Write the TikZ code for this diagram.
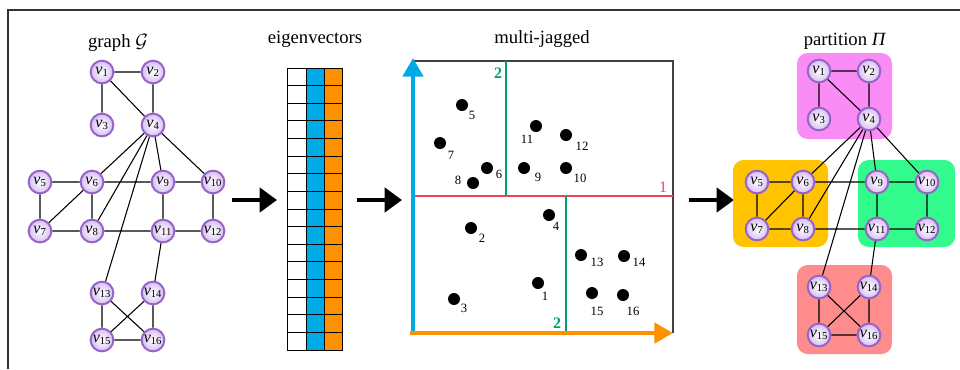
\documentclass[tikz,border=0pt]{standalone}
\usepackage{fontspec}
\setmainfont{Liberation Serif}
\usetikzlibrary{arrows.meta}

\definecolor{vborder}{RGB}{150,100,200}
\definecolor{vfill}{RGB}{215,190,242}
\definecolor{eblue}{RGB}{0,170,230}
\definecolor{eorange}{RGB}{255,145,0}
\definecolor{cutred}{RGB}{240,70,90}
\definecolor{cutgreen}{RGB}{0,160,110}
\definecolor{ppink}{RGB}{250,140,245}
\definecolor{pyellow}{RGB}{255,195,0}
\definecolor{pgreen}{RGB}{50,250,140}
\definecolor{pred}{RGB}{255,140,140}

\newcommand{\vlab}[1]{\textit{v}\textsubscript{#1}}

\begin{document}
\begin{tikzpicture}[x=0.75pt,y=-0.75pt,
  vtx/.style={circle, draw=vborder, line width=1.5pt, inner color=white, outer color=vfill,
    minimum size=17pt, inner sep=0pt, font=\fontsize{12}{12}\selectfont},
  pt/.style={circle, fill=black, minimum size=9pt, inner sep=0pt},
  num/.style={font=\fontsize{9.5}{10}\selectfont, inner sep=0pt},
  ttl/.style={font=\fontsize{14}{16}\selectfont, anchor=base},
  flow/.style={line width=3.5pt, -{Triangle[length=13pt,width=18pt]}},
  axis/.style={line width=3.5pt, -{Triangle[length=14pt,width=15pt]}},
  cut/.style={line width=1.2pt},
  cell/.style={draw, line width=0.6pt},
  part/.style={rounded corners=8pt}
]
\useasboundingbox (0,0) rectangle (960,369);
\draw[line width=1.2pt, black!80] (8,369) -- (8,10) -- (960,10);

% titles
\node[ttl] (tg) at (118,47) {graph $\mathcal{G}$};
\node[ttl] (te) at (315,43) {eigenvectors};
\node[ttl] (tm) at (542,43) {multi-jagged};
\node[ttl] (tp) at (845,45) {partition \textit{Π}};

% graph G
\node[vtx] (g1) at (102,72) {\vlab{1}};
\node[vtx] (g2) at (153,72) {\vlab{2}};
\node[vtx] (g3) at (102,125) {\vlab{3}};
\node[vtx] (g4) at (153,125) {\vlab{4}};
\node[vtx] (g5) at (40,182) {\vlab{5}};
\node[vtx] (g6) at (92,182) {\vlab{6}};
\node[vtx] (g7) at (40,231) {\vlab{7}};
\node[vtx] (g8) at (92,231) {\vlab{8}};
\node[vtx] (g9) at (163,182) {\vlab{9}};
\node[vtx] (g10) at (213,182) {\vlab{10}};
\node[vtx] (g11) at (163,231) {\vlab{11}};
\node[vtx] (g12) at (213,231) {\vlab{12}};
\node[vtx] (g13) at (102,293) {\vlab{13}};
\node[vtx] (g14) at (153,293) {\vlab{14}};
\node[vtx] (g15) at (102,340) {\vlab{15}};
\node[vtx] (g16) at (153,340) {\vlab{16}};

\path[draw,thick] (g1) -- (g2) (g1) -- (g3) (g1) -- (g4) (g2) -- (g4)
  (g4) -- (g6) (g4) -- (g8) (g4) -- (g9) (g4) -- (g10) (g4) -- (g13)
  (g5) -- (g6) (g5) -- (g7) (g6) -- (g7) (g6) -- (g8) (g6) -- (g9) (g7) -- (g8)
  (g8) -- (g11) (g9) -- (g10) (g9) -- (g11) (g10) -- (g12) (g11) -- (g12)
  (g11) -- (g14) (g13) -- (g15) (g13) -- (g16) (g14) -- (g15) (g14) -- (g16)
  (g15) -- (g16);

% eigenvectors
\fill[eblue] (306,68) rectangle (324,350);
\fill[eorange] (324,68) rectangle (342,350);
\foreach \r in {0,...,15} {
  \draw[cell] (287,{68+17.625*\r}) rectangle (306,{68+17.625*(\r+1)});
  \draw[cell] (306,{68+17.625*\r}) rectangle (324,{68+17.625*(\r+1)});
  \draw[cell] (324,{68+17.625*\r}) rectangle (342,{68+17.625*(\r+1)});
}

% flow arrows
\coordinate (a1) at (232,200);
\coordinate (b1) at (277,200);
\coordinate (a2) at (357,200);
\coordinate (b2) at (402,200);
\coordinate (a3) at (689,200);
\coordinate (b3) at (734,200);
\draw[flow] (a1) -- (b1);
\draw[flow] (a2) -- (b2);
\draw[flow] (a3) -- (b3);

% multi-jagged
\coordinate (o) at (413,333);
\coordinate (ytip) at (413,58);
\coordinate (xtip) at (673,333);
\draw[line width=1.2pt, black!75] (413,61) -- (673,61) -- (673,333);
\draw[cut, cutred] (413,196) -- (673,196);
\draw[cut, cutgreen] (506,61) -- (506,196);
\draw[cut, cutgreen] (566,196) -- (566,333);
\draw[axis, eblue] (o) -- (ytip);
\draw[axis, eorange] ([xshift=-2pt]o) -- (xtip);
\node[font=\fontsize{12}{12}\selectfont, text=cutred] (c1) at (663,187) {1};
\node[font=\fontsize{12}{12}\selectfont\bfseries, text=cutgreen] (c2) at (498,73) {2};
\node[font=\fontsize{12}{12}\selectfont\bfseries, text=cutgreen] (c3) at (557,323) {2};

\node[pt] (d1) at (538,283) {};  \node[num] (n1) at (545,296) {1};
\node[pt] (d2) at (471,228) {};  \node[num] (n2) at (482,238) {2};
\node[pt] (d3) at (454,299) {};  \node[num] (n3) at (464,308) {3};
\node[pt] (d4) at (549,215) {};  \node[num] (n4) at (556,226) {4};
\node[pt] (d5) at (462,105) {};  \node[num] (n5) at (472,115) {5};
\node[pt] (d6) at (487,168) {};  \node[num] (n6) at (499,174) {6};
\node[pt] (d7) at (440,143) {};  \node[num] (n7) at (451,155) {7};
\node[pt] (d8) at (473,183) {};  \node[num] (n8) at (458,180) {8};
\node[pt] (d9) at (524,168) {};  \node[num] (n9) at (538,177) {9};
\node[pt] (d10) at (566,168) {}; \node[num] (n10) at (580,178) {10};
\node[pt] (d11) at (536,126) {}; \node[num] (n11) at (527,139) {11};
\node[pt] (d12) at (566,135) {}; \node[num] (n12) at (582,146) {12};
\node[pt] (d13) at (581,255) {}; \node[num] (n13) at (597,262) {13};
\node[pt] (d14) at (624,256) {}; \node[num] (n14) at (639,262) {14};
\node[pt] (d15) at (592,293) {}; \node[num] (n15) at (597,311) {15};
\node[pt] (d16) at (623,295) {}; \node[num] (n16) at (633,311) {16};

% partition
\fill[part, ppink] (797,53) rectangle (892,139);
\fill[part, pyellow] (733,160) rectangle (828,247);
\fill[part, pgreen] (858,160) rectangle (955,247);
\fill[part, pred] (797,265) rectangle (892,354);

\node[vtx] (p1) at (819,71) {\vlab{1}};
\node[vtx] (p2) at (869,71) {\vlab{2}};
\node[vtx] (p3) at (819,119) {\vlab{3}};
\node[vtx] (p4) at (869,119) {\vlab{4}};
\node[vtx] (p5) at (757,182) {\vlab{5}};
\node[vtx] (p6) at (803,182) {\vlab{6}};
\node[vtx] (p7) at (757,229) {\vlab{7}};
\node[vtx] (p8) at (803,229) {\vlab{8}};
\node[vtx] (p9) at (877,182) {\vlab{9}};
\node[vtx] (p10) at (927,182) {\vlab{10}};
\node[vtx] (p11) at (877,229) {\vlab{11}};
\node[vtx] (p12) at (927,229) {\vlab{12}};
\node[vtx] (p13) at (819,287) {\vlab{13}};
\node[vtx] (p14) at (869,287) {\vlab{14}};
\node[vtx] (p15) at (819,335) {\vlab{15}};
\node[vtx] (p16) at (869,335) {\vlab{16}};

\path[draw,thick] (p1) -- (p2) (p1) -- (p3) (p1) -- (p4) (p2) -- (p4)
  (p4) -- (p6) (p4) -- (p8) (p4) -- (p9) (p4) -- (p10) (p4) -- (p13)
  (p5) -- (p6) (p5) -- (p7) (p6) -- (p7) (p6) -- (p8) (p6) -- (p9) (p7) -- (p8)
  (p8) -- (p11) (p9) -- (p10) (p9) -- (p11) (p10) -- (p12) (p11) -- (p12)
  (p11) -- (p14) (p13) -- (p15) (p13) -- (p16) (p14) -- (p15) (p14) -- (p16)
  (p15) -- (p16);
\end{tikzpicture}
\end{document}
